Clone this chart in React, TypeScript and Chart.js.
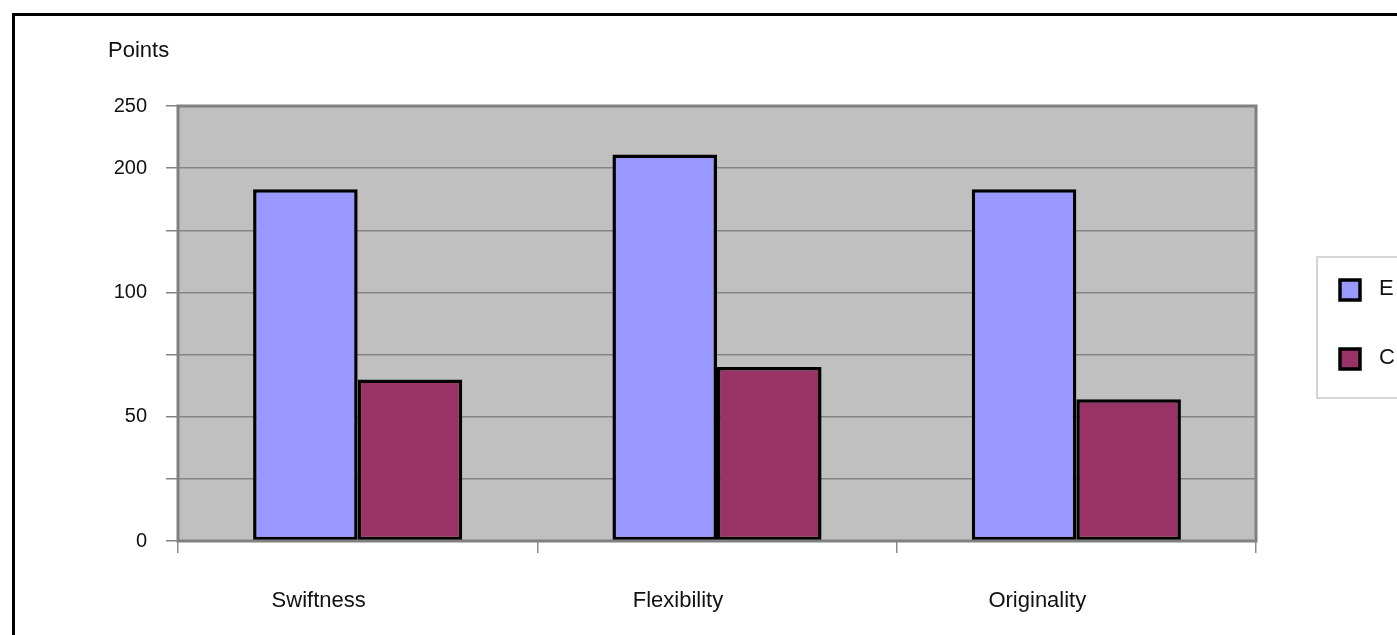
import React, { useEffect, useRef } from "react";
import { Chart, registerables } from "chart.js";

Chart.register(...registerables);

const categories = ["Swiftness", "Flexibility", "Originality"];
const seriesNames = ["E", "C"];
const seriesE = [183, 211, 183];
const seriesC = [65, 70, 57];
const colors = ["#9999ff", "#993366"];
// axis tick values (the printed axis is uneven) and the labels shown beside them
const tickValues = [0, 25, 50, 75, 100, 150, 200, 250];
const tickLabels = ["0", "", "50", "", "100", "", "200", "250"];
const axisTitle = "Points";

const FONT = "'Liberation Sans', Arial, sans-serif";

function toAxis(v: number): number {
  for (let i = 0; i < tickValues.length - 1; i++) {
    const a = tickValues[i];
    const b = tickValues[i + 1];
    if (v <= b) return i + (v - a) / (b - a);
  }
  return tickValues.length - 1;
}

const decorPlugin = {
  id: "decor",
  beforeDraw(chart: any) {
    const { ctx, chartArea } = chart;
    ctx.save();
    ctx.fillStyle = "#c0c0c0";
    ctx.fillRect(chartArea.left, chartArea.top, chartArea.right - chartArea.left, chartArea.bottom - chartArea.top);
    ctx.restore();
  },
  afterDatasetsDraw(chart: any) {
    const { ctx, chartArea } = chart;
    ctx.save();
    ctx.strokeStyle = "#808080";
    ctx.lineWidth = 3;
    ctx.strokeRect(chartArea.left, chartArea.top, chartArea.right - chartArea.left, chartArea.bottom - chartArea.top);
    ctx.restore();
  },
  afterDraw(chart: any) {
    const { ctx, chartArea } = chart;
    ctx.save();
    // axis title
    ctx.fillStyle = "#111";
    ctx.font = `22px ${FONT}`;
    ctx.textBaseline = "middle";
    ctx.textAlign = "left";
    ctx.fillText(axisTitle, 108, 51);
    // legend box
    const lx = chartArea.right + 61;
    const ly = 257;
    ctx.fillStyle = "#ffffff";
    ctx.fillRect(lx, ly, 300, 141);
    ctx.strokeStyle = "#c8c8c8";
    ctx.lineWidth = 1.5;
    ctx.strokeRect(lx, ly, 300, 141);
    const ds = chart.data.datasets;
    const rows = [290, 359];
    ds.forEach((d: any, i: number) => {
      const cy = rows[i];
      ctx.fillStyle = d.backgroundColor;
      ctx.fillRect(lx + 23, cy - 10, 20, 20);
      ctx.strokeStyle = "#000";
      ctx.lineWidth = 3.5;
      ctx.strokeRect(lx + 23, cy - 10, 20, 20);
      ctx.fillStyle = "#111";
      ctx.font = `22px ${FONT}`;
      ctx.textBaseline = "middle";
      ctx.fillText(d.label, lx + 62, cy - 1);
    });
    ctx.restore();
  },
};

export default function App() {
  const ref = useRef<HTMLCanvasElement | null>(null);

  useEffect(() => {
    if (!ref.current) return;
    const chart = new Chart(ref.current, {
      type: "bar",
      data: {
        labels: categories,
        datasets: [
          {
            label: seriesNames[0],
            data: seriesE.map(toAxis),
            backgroundColor: colors[0],
            borderColor: "#000",
            borderWidth: 3.5,
            borderSkipped: false,
          },
          {
            label: seriesNames[1],
            data: seriesC.map(toAxis),
            backgroundColor: colors[1],
            borderColor: "#000",
            borderWidth: 3.5,
            borderSkipped: false,
          },
        ],
      },
      options: {
        animation: false,
        responsive: false,
        devicePixelRatio: 1,
        datasets: { bar: { barPercentage: 1, categoryPercentage: 0.582 } },
        layout: { padding: { top: 106, right: 141, left: 0, bottom: 0 } },
        plugins: { legend: { display: false }, tooltip: { enabled: false }, title: { display: false } },
        scales: {
          x: {
            type: "category",
            afterFit: (s: any) => {
              s.height = 94;
            },
            grid: {
              display: true,
              offset: true,
              drawOnChartArea: false,
              drawTicks: true,
              tickLength: 12,
              color: "#8c8c8c",
              lineWidth: 1.5,
            },
            border: { display: false },
            ticks: {
              color: "#111",
              font: { family: FONT, size: 22 },
              padding: 35,
              labelOffset: -39,
              maxRotation: 0,
            },
          },
          y: {
            type: "linear",
            min: 0,
            max: tickValues.length - 1,
            afterFit: (s: any) => {
              s.width = 178;
            },
            grid: {
              color: "#858585",
              lineWidth: 1.5,
              tickLength: 12,
              drawTicks: true,
            },
            border: { display: false },
            ticks: {
              stepSize: 1,
              autoSkip: false,
              color: "#111",
              font: { family: FONT, size: 20 },
              padding: 19,
              callback: (v: any) => tickLabels[Math.round(Number(v))] ?? "",
            },
          },
        },
      },
      plugins: [decorPlugin],
    });
    return () => chart.destroy();
  }, []);

  return (
    <div
      style={{
        position: "absolute",
        left: 0,
        top: 0,
        width: 1397,
        height: 635,
        overflow: "hidden",
        background: "#fff",
      }}
    >
      <canvas
        ref={ref}
        width={1397}
        height={635}
        style={{ position: "absolute", left: 0, top: 0, width: 1397, height: 635, display: "block" }}
      />
      <div
        style={{
          position: "absolute",
          left: 12,
          top: 13,
          width: 2000,
          height: 2000,
          border: "3px solid #000",
          pointerEvents: "none",
        }}
      />
    </div>
  );
}
